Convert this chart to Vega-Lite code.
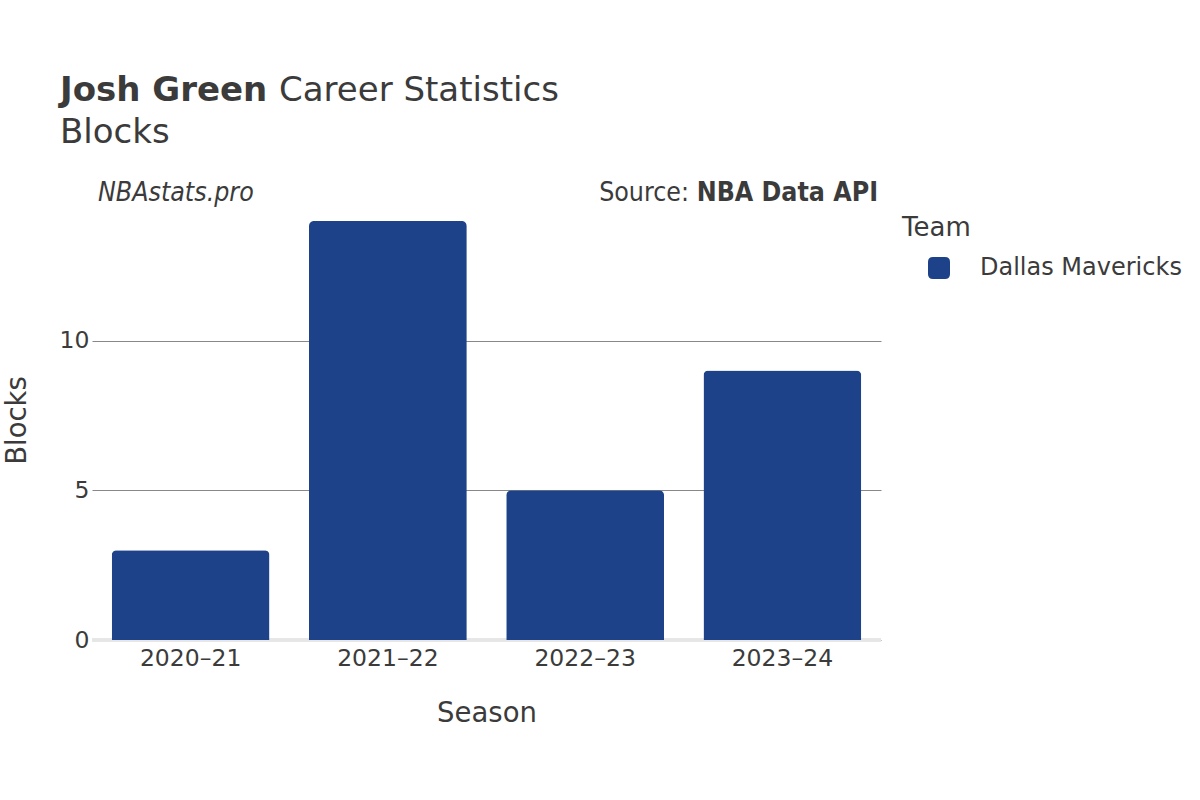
{
  "$schema": "https://vega.github.io/schema/vega-lite/v6.json",
  "autosize": {"type": "none"},
  "padding": {"left": 92, "top": 200, "right": 319, "bottom": 160},
  "width": 789,
  "height": 440,
  "background": "white",
  "config": {
    "font": "DejaVu Sans",
    "view": {"stroke": null},
    "text": {"color": "#3b3b3b"}
  },
  "data": {
    "values": [
      {"Season": "2020–21", "Team": "Dallas Mavericks", "Blocks": 3},
      {"Season": "2021–22", "Team": "Dallas Mavericks", "Blocks": 14},
      {"Season": "2022–23", "Team": "Dallas Mavericks", "Blocks": 5},
      {"Season": "2023–24", "Team": "Dallas Mavericks", "Blocks": 9}
    ]
  },
  "layer": [
    {
      "mark": {"type": "rule", "color": "#e6e6e6", "strokeWidth": 3},
      "encoding": {"y": {"datum": 0, "type": "quantitative"}}
    },
    {
      "mark": {"type": "bar", "cornerRadiusTopLeft": 5, "cornerRadiusTopRight": 5},
      "encoding": {
        "x": {
          "field": "Season", "type": "nominal", "title": "Season",
          "scale": {"paddingInner": 0.2, "paddingOuter": 0.1},
          "axis": {
            "labelAngle": 0, "labelFontSize": 23.5, "labelColor": "#3b3b3b", "labelPadding": 6,
            "ticks": false, "domain": false, "grid": false,
            "titleFontSize": 27.5, "titleFontWeight": "normal", "titleColor": "#3b3b3b", "titlePadding": 30
          }
        },
        "y": {
          "field": "Blocks", "type": "quantitative", "title": "Blocks",
          "scale": {"domain": [0, 14.7], "nice": false},
          "axis": {
            "values": [0, 5, 10], "labelFontSize": 23.5, "labelColor": "#3b3b3b", "labelPadding": 3,
            "ticks": false, "domain": false, "grid": true, "gridColor": "#888888", "gridWidth": 1,
            "titleFontSize": 27.5, "titleFontWeight": "normal", "titleColor": "#3b3b3b", "titlePadding": 28
          }
        },
        "color": {
          "field": "Team", "type": "nominal", "title": "Team",
          "scale": {"range": ["#1d428a"]},
          "legend": {
            "orient": "none", "legendX": 810, "legendY": 15,
            "titleFontSize": 26, "titleFontWeight": "normal", "titleColor": "#3b3b3b", "titlePadding": 15,
            "labelFontSize": 24, "labelColor": "#3b3b3b", "labelOffset": 29, "labelLimit": 0,
            "symbolType": "M -0.55,-1 H 0.55 Q 1,-1 1,-0.55 V 0.55 Q 1,1 0.55,1 H -0.55 Q -1,1 -1,0.55 V -0.55 Q -1,-1 -0.55,-1 Z",
            "symbolSize": 484, "symbolOffset": 25, "symbolStrokeWidth": 0
          }
        }
      }
    },
    {
      "data": {"values": [{"t": "Josh Green"}]},
      "mark": {"type": "text", "fontSize": 34, "fontWeight": "bold", "align": "left", "baseline": "alphabetic"},
      "encoding": {"x": {"value": -32}, "y": {"value": -99}, "text": {"field": "t"}}
    },
    {
      "data": {"values": [{"t": "Career Statistics"}]},
      "mark": {"type": "text", "fontSize": 34, "align": "left", "baseline": "alphabetic"},
      "encoding": {"x": {"value": 187}, "y": {"value": -99}, "text": {"field": "t"}}
    },
    {
      "data": {"values": [{"t": "Blocks"}]},
      "mark": {"type": "text", "fontSize": 34, "align": "left", "baseline": "alphabetic"},
      "encoding": {"x": {"value": -32}, "y": {"value": -57}, "text": {"field": "t"}}
    },
    {
      "data": {"values": [{"t": "NBAstats.pro"}]},
      "mark": {"type": "text", "font": "DejaVu Sans Condensed", "fontSize": 26.5, "fontStyle": "italic", "align": "left", "baseline": "alphabetic"},
      "encoding": {"x": {"value": 6}, "y": {"value": 1}, "text": {"field": "t"}}
    },
    {
      "data": {"values": [{"t": "Source:"}]},
      "mark": {"type": "text", "font": "DejaVu Sans Condensed", "fontSize": 26.5, "align": "right", "baseline": "alphabetic"},
      "encoding": {"x": {"value": 597}, "y": {"value": 1}, "text": {"field": "t"}}
    },
    {
      "data": {"values": [{"t": "NBA Data API"}]},
      "mark": {"type": "text", "font": "DejaVu Sans Condensed", "fontSize": 26.5, "fontWeight": "bold", "align": "right", "baseline": "alphabetic"},
      "encoding": {"x": {"value": 786}, "y": {"value": 1}, "text": {"field": "t"}}
    }
  ]
}
